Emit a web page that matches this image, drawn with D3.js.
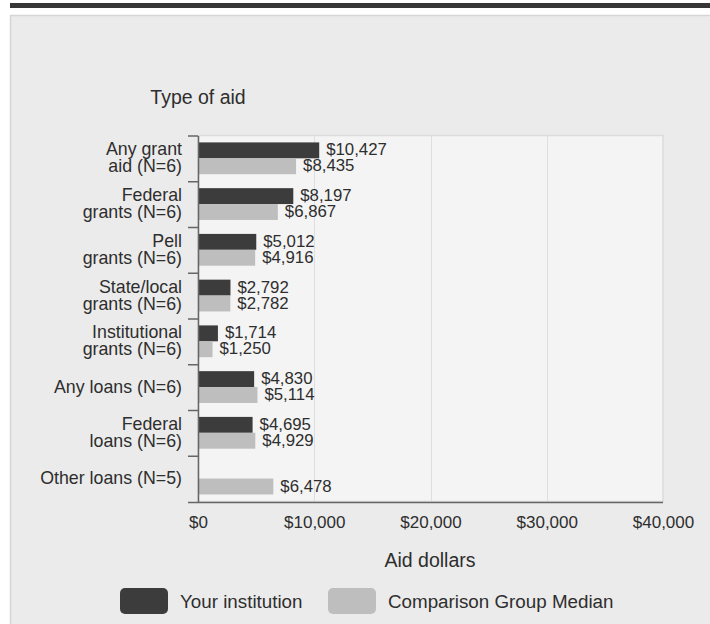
<!DOCTYPE html>
<html>
<head>
<meta charset="utf-8">
<script src="https://cdn.jsdelivr.net/npm/d3@7"></script>
<style>
  html, body { margin: 0; padding: 0; background: #ffffff; }
  svg { display: block; font-family: "Liberation Sans", Arial, sans-serif; }
</style>
</head>
<body>
<svg id="chart" width="710" height="624"></svg>
<script>
// ---- data ----
const categories = [
  "Any grant aid (N=6)",
  "Federal grants (N=6)",
  "Pell grants (N=6)",
  "State/local grants (N=6)",
  "Institutional grants (N=6)",
  "Any loans (N=6)",
  "Federal loans (N=6)",
  "Other loans (N=5)"
];
const categoryLines = [
  ["Any grant", "aid (N=6)"],
  ["Federal", "grants (N=6)"],
  ["Pell", "grants (N=6)"],
  ["State/local", "grants (N=6)"],
  ["Institutional", "grants (N=6)"],
  ["Any loans (N=6)"],
  ["Federal", "loans (N=6)"],
  ["Other loans (N=5)"]
];
const seriesNames = ["Your institution", "Comparison Group Median"];
const yourInstitution = [10427, 8197, 5012, 2792, 1714, 4830, 4695, null];
const comparisonMedian = [8435, 6867, 4916, 2782, 1250, 5114, 4929, 6478];
const tickValues = [0, 10000, 20000, 30000, 40000];
const seriesColors = ["#3c3c3c", "#bebebe"];

// ---- layout ----
const svg = d3.select("#chart");
const W = 710, H = 624;
const plot = { left: 198, right: 663, top: 136, bottom: 502 };
const textColor = "#2e2e2e";

// page frame
svg.append("rect").attr("x", 10).attr("y", 3).attr("width", W - 10).attr("height", 5).attr("fill", "#363636");
svg.append("rect").attr("x", 10.5).attr("y", 15.5).attr("width", W).attr("height", H)
  .attr("fill", "#ebebeb").attr("stroke", "#d6d6d6").attr("stroke-width", 1.5);

const x = d3.scaleLinear().domain([0, 40000]).range([plot.left, plot.right]);
const y = d3.scaleBand().domain(categories).range([plot.top, plot.bottom]).padding(0);
const bw = y.bandwidth();
const ySub = d3.scaleBand().domain(seriesNames).range([bw * 0.14, bw * 0.835]).padding(0);

// plot background
svg.append("rect").attr("x", plot.left).attr("y", plot.top - 0.5)
  .attr("width", plot.right - plot.left).attr("height", plot.bottom - plot.top)
  .attr("fill", "#f4f4f4").attr("stroke", "#dcdcdc").attr("stroke-width", 1.5);

// gridlines
svg.append("g").selectAll("line").data(tickValues.slice(1, -1)).join("line")
  .attr("x1", d => Math.round(x(d)) + 0.5).attr("x2", d => Math.round(x(d)) + 0.5)
  .attr("y1", plot.top).attr("y2", plot.bottom)
  .attr("stroke", "#dedede").attr("stroke-width", 1);

// bars
const series = [yourInstitution, comparisonMedian];
series.forEach((vals, si) => {
  const g = svg.append("g");
  const rows = categories.map((c, i) => ({ c, v: vals[i] })).filter(d => d.v != null);
  g.selectAll("rect").data(rows).join("rect")
    .attr("x", x(0))
    .attr("y", d => y(d.c) + ySub(seriesNames[si]))
    .attr("width", d => x(d.v) - x(0))
    .attr("height", ySub.bandwidth())
    .attr("fill", seriesColors[si]);
  g.selectAll("text").data(rows).join("text")
    .attr("x", d => x(d.v) + 7)
    .attr("y", d => y(d.c) + ySub(seriesNames[si]) + ySub.bandwidth() / 2 - 0.5)
    .attr("dominant-baseline", "central")
    .attr("font-size", 16.8)
    .attr("fill", textColor)
    .text(d => "$" + d3.format(",")(d.v));
});

// left axis line + ticks
svg.append("line").attr("x1", plot.left + 0.5).attr("x2", plot.left + 0.5)
  .attr("y1", plot.top).attr("y2", plot.bottom)
  .attr("stroke", "#666").attr("stroke-width", 1.5);
svg.append("g").selectAll("line").data(categories).join("line")
  .attr("x1", 188).attr("x2", plot.left)
  .attr("y1", d => y(d)).attr("y2", d => y(d))
  .attr("stroke", "#666").attr("stroke-width", 1.5);

// category labels
const cl = svg.append("g").attr("font-size", 17.8).attr("fill", textColor).attr("text-anchor", "end");
categoryLines.forEach((lines, i) => {
  const cy = y(categories[i]) + bw / 2 - 1;
  const lh = 17;
  const t = cl.append("text");
  lines.forEach((ln, j) => {
    t.append("tspan").attr("x", 182)
      .attr("y", cy + (j - (lines.length - 1) / 2) * lh)
      .attr("dominant-baseline", "central")
      .text(ln);
  });
});

// bottom axis
const xAxis = d3.axisBottom(x).tickValues(tickValues).tickSize(0).tickPadding(16)
  .tickFormat(d => "$" + d3.format(",")(d));
const ax = svg.append("g").attr("transform", `translate(0,${plot.bottom})`).call(xAxis);
ax.select(".domain").remove();
ax.selectAll("text").attr("font-size", 17).attr("fill", textColor)
  .attr("font-family", "Liberation Sans, Arial, sans-serif").attr("dy", "0.32em").attr("y", 21);
svg.append("line").attr("x1", 188).attr("x2", plot.right)
  .attr("y1", plot.bottom + 0.5).attr("y2", plot.bottom + 0.5)
  .attr("stroke", "#666").attr("stroke-width", 1.5);

// axis titles
svg.append("text").attr("x", 198).attr("y", 97).attr("text-anchor", "middle")
  .attr("dominant-baseline", "central").attr("font-size", 19.5).attr("fill", textColor)
  .text("Type of aid");
svg.append("text").attr("x", 430).attr("y", 560).attr("text-anchor", "middle")
  .attr("dominant-baseline", "central").attr("font-size", 19.5).attr("fill", textColor)
  .text("Aid dollars");

// legend
const legend = [
  { name: seriesNames[0], color: seriesColors[0], sx: 120, tx: 180 },
  { name: seriesNames[1], color: seriesColors[1], sx: 328, tx: 388 }
];
const lg = svg.append("g");
legend.forEach(l => {
  lg.append("rect").attr("x", l.sx).attr("y", 588).attr("width", 48).attr("height", 26)
    .attr("rx", 5).attr("fill", l.color);
  lg.append("text").attr("x", l.tx).attr("y", 601).attr("dominant-baseline", "central")
    .attr("font-size", 18.8).attr("fill", textColor).text(l.name);
});
</script>
</body>
</html>
